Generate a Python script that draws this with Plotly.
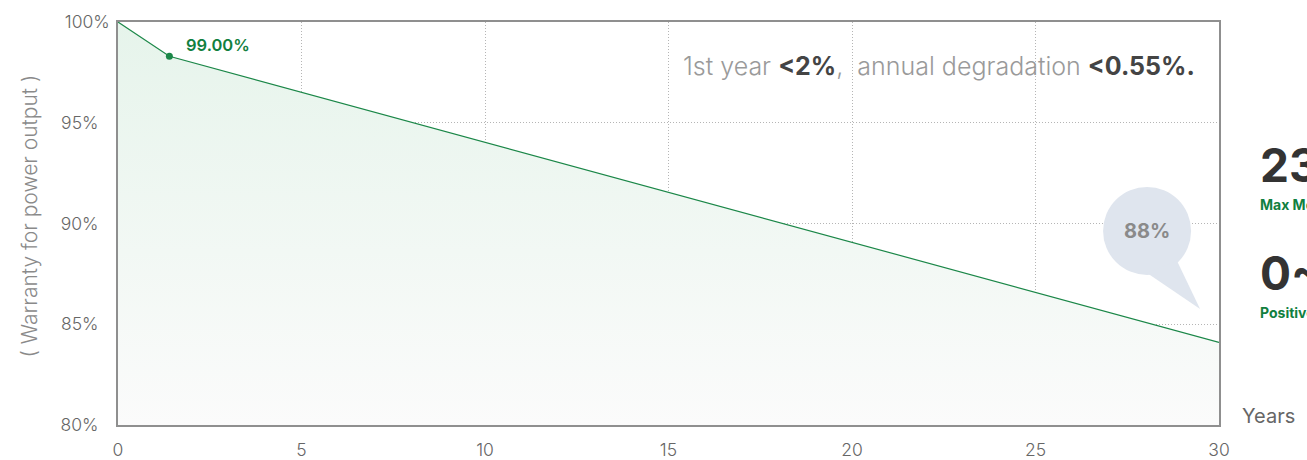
import plotly.graph_objects as go

years = [0, 1.4, 30]
power = [100, 98.3, 84.1]
point_label = "99.00%"
x_ticks = [0, 5, 10, 15, 20, 25, 30]
y_ticks = [80, 85, 90, 95, 100]
y_tick_labels = ["80%", "85%", "90%", "95%", "100%"]
bubble_text = "88%"

GREEN = "#1b8748"
FONT = "Inter"

# pad the shorter tick labels with figure spaces so they line up on the left
y_tick_text = [t + "\u2007" * (4 - len(t)) for t in y_tick_labels]

fig = go.Figure()
fig.add_trace(go.Scatter(
    x=years, y=power, mode="lines",
    line=dict(color=GREEN, width=1.2),
    fill="tozeroy",
    fillgradient=dict(type="vertical", start=80, stop=100,
                      colorscale=[[0, "rgba(251,251,251,1)"], [1, "rgba(230,244,235,1)"]]),
    hoverinfo="skip", showlegend=False,
))
fig.add_trace(go.Scatter(
    x=[years[1]], y=[power[1]], mode="markers",
    marker=dict(color=GREEN, size=7), showlegend=False, hoverinfo="skip",
))

axis_common = dict(showline=True, linecolor="#8f8f8f", linewidth=1.5, mirror=True,
                   showgrid=True, gridcolor="#b5b5b5", griddash="1px,2px", gridwidth=1,
                   zeroline=False, ticks="", automargin=False,
                   tickfont=dict(family=FONT, size=17.5, color="#666666", weight=300))

fig.update_xaxes(range=[0, 30], tickvals=x_ticks, ticklabelstandoff=8, **axis_common)
fig.update_yaxes(range=[80, 100], tickvals=y_ticks, ticktext=y_tick_text,
                 ticklabelstandoff=3, **axis_common)

# speech bubble
bx, by = 28.04, 89.63
fig.add_shape(type="circle", xref="x", yref="y", xsizemode="pixel", ysizemode="pixel",
              xanchor=bx, yanchor=by, x0=-44, x1=44, y0=-44, y1=44,
              fillcolor="#dfe5ee", line=dict(width=0), layer="above")
fig.add_shape(type="path", xref="x", yref="y", xsizemode="pixel", ysizemode="pixel",
              xanchor=bx, yanchor=by, path="M 30 -30 L 53 -78 L 0 -42 Z",
              fillcolor="#dfe5ee", line=dict(width=0), layer="above")

side = dict(xref="paper", yref="paper", xanchor="left", yanchor="middle", showarrow=False)
annotations = [
    dict(x=bx, y=by, xref="x", yref="y", text="<b>" + bubble_text + "</b>", showarrow=False,
         font=dict(family=FONT, size=20, color="#8a8a8a")),
    dict(x=years[1], y=power[1], xref="x", yref="y", text=point_label, showarrow=False,
         xanchor="left", xshift=15, yshift=11,
         font=dict(family=FONT, size=16.5, color="#11803f", weight=600)),
    dict(x=29.4, y=97.8, xref="x", yref="y", xanchor="right", showarrow=False,
         text="1st year <span style='color:#444'><b>&lt;2%</b></span>,  annual degradation "
              "<span style='color:#444'><b>&lt;0.55%.</b></span>",
         font=dict(family=FONT, size=25, color="#9a9a9a", weight=300)),
    dict(x=-0.0935, y=0.519, xref="paper", yref="paper", textangle=-90, showarrow=False,
         text="( Warranty for power output )",
         font=dict(family=FONT, size=21, color="#8a8a8a", weight=300)),
    dict(x=1.019, y=0.022, text="Years",
         font=dict(family=FONT, size=20, color="#666", weight=400), **side),
    dict(x=1.0354, y=0.645, text="<b>23.2%</b>",
         font=dict(family=FONT, size=46, color="#333"), **side),
    dict(x=1.0354, y=0.546, text="<b>Max Module Efficiency</b>",
         font=dict(family=FONT, size=14, color="#11803f"), **side),
    dict(x=1.0354, y=0.377, text="<b>0~+5W</b>",
         font=dict(family=FONT, size=46, color="#333"), **side),
    dict(x=1.0354, y=0.278, text="<b>Positive Power Tolerance</b>",
         font=dict(family=FONT, size=14, color="#11803f"), **side),
]

fig.update_layout(
    width=1307, height=460,
    margin=dict(l=118, r=88, t=22, b=35, autoexpand=False),
    paper_bgcolor="white", plot_bgcolor="white",
    annotations=annotations,
    font=dict(family=FONT),
)

fig.write_html("out.html", config={"displayModeBar": False},
               post_script="document.body.style.margin='0';")
